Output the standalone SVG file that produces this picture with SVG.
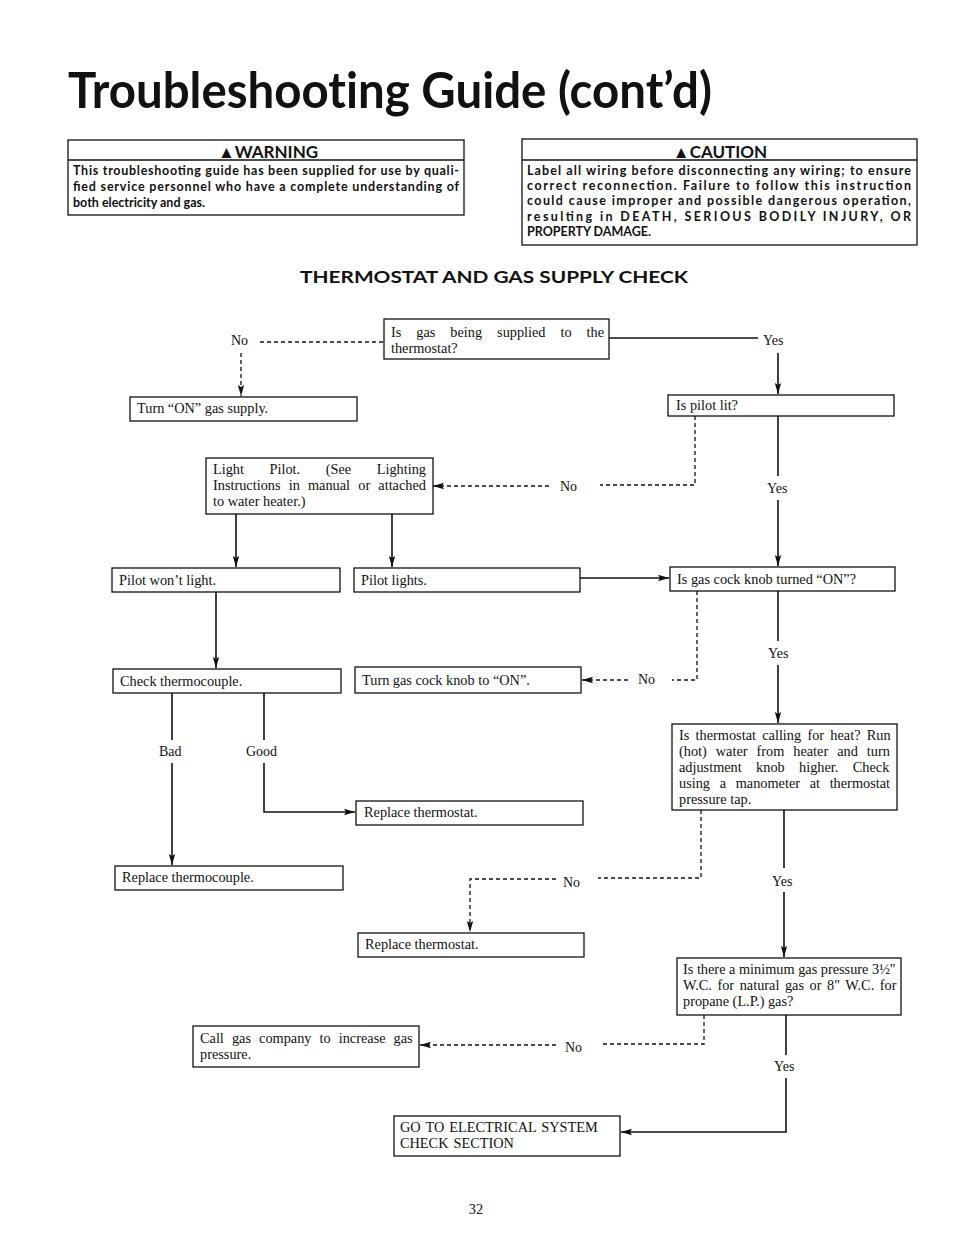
<svg xmlns="http://www.w3.org/2000/svg" width="954" height="1239" viewBox="0 0 954 1239">
<defs>
<style>
.bx{fill:#fff;stroke:#111;stroke-width:1.3}
.t{font-family:"Liberation Serif",serif;font-size:14.3px;fill:#111}
.lb{font-family:"Liberation Serif",serif;font-size:14px;fill:#111}
.s{fill:none;stroke:#111;stroke-width:1.6}
.d{fill:none;stroke:#111;stroke-width:1.3;stroke-dasharray:4,3}
.h{font-family:Lato,"Open Sans",sans-serif;font-weight:bold;fill:#111;font-variant-ligatures:none}
.wb{font-family:Lato,"Open Sans",sans-serif;font-weight:bold;font-size:12.5px;fill:#111}
</style>
<marker id="a" markerUnits="userSpaceOnUse" markerWidth="12" markerHeight="8" refX="11" refY="4" orient="auto">
<path d="M0,0.8 L11,4 L0,7.2 L2,4 z" fill="#111"/>
</marker>
</defs>
<rect width="954" height="1239" fill="#fff"/>

<text x="68" y="108" class="h" font-size="50" font-weight="900" textLength="644" lengthAdjust="spacingAndGlyphs">Troubleshooting Guide (cont’d)</text>

<g id="warning">
<rect x="68" y="140" width="396" height="75" class="bx"/>
<line x1="68" y1="160" x2="464" y2="160" stroke="#111" stroke-width="1.3"/>
<text x="268" y="157.5" class="h" font-size="17" text-anchor="middle" font-weight="900">▲WARNING</text>
<text x="73" y="175" class="wb" textLength="386" lengthAdjust="spacing">This troubleshooting guide has been supplied for use by quali-</text>
<text x="73" y="191" class="wb" textLength="386" lengthAdjust="spacing">fied service personnel who have a complete understanding of</text>
<text x="73" y="207" class="wb">both electricity and gas.</text>
</g>

<g id="caution">
<rect x="522" y="139" width="395" height="106" class="bx"/>
<line x1="522" y1="160" x2="917" y2="160" stroke="#111" stroke-width="1.3"/>
<text x="720" y="157.5" class="h" font-size="17" text-anchor="middle" font-weight="900">▲CAUTION</text>
<text x="527" y="175" class="wb" textLength="384" lengthAdjust="spacing">Label all wiring before disconnecting any wiring; to ensure</text>
<text x="527" y="190" class="wb" textLength="384" lengthAdjust="spacing">correct reconnection. Failure to follow this instruction</text>
<text x="527" y="205" class="wb" textLength="384" lengthAdjust="spacing">could cause improper and possible dangerous operation,</text>
<text x="527" y="221" class="wb" textLength="384" lengthAdjust="spacing">resulting in DEATH, SERIOUS BODILY INJURY, OR</text>
<text x="527" y="236" class="wb">PROPERTY DAMAGE.</text>
</g>

<text x="300" y="283" class="h" font-size="17" font-weight="900" textLength="388" lengthAdjust="spacingAndGlyphs">THERMOSTAT AND GAS SUPPLY CHECK</text>

<g id="connectors">
<path class="d" d="M260,342 H384"/>
<path class="d" d="M241,353 V396" marker-end="url(#a)"/>
<path class="s" d="M609,338 H758"/>
<path class="s" d="M778,353 V394" marker-end="url(#a)"/>
<path class="d" d="M695,416 V485 H600"/>
<path class="d" d="M549,486 H433" marker-end="url(#a)"/>
<path class="s" d="M778,416 V476"/>
<path class="s" d="M778,500 V566" marker-end="url(#a)"/>
<path class="s" d="M236,514 V567" marker-end="url(#a)"/>
<path class="s" d="M392,514 V567" marker-end="url(#a)"/>
<path class="s" d="M580,578 H669" marker-end="url(#a)"/>
<path class="d" d="M697,591 V680 H672"/>
<path class="d" d="M628,680 H582" marker-end="url(#a)"/>
<path class="s" d="M778,591 V641"/>
<path class="s" d="M778,665 V723" marker-end="url(#a)"/>
<path class="s" d="M216,592 V668" marker-end="url(#a)"/>
<path class="s" d="M172,693 V740"/>
<path class="s" d="M172,763 V865" marker-end="url(#a)"/>
<path class="s" d="M264,693 V740"/>
<path class="s" d="M264,763 V812 H355" marker-end="url(#a)"/>
<path class="d" d="M701,810 V878 H598"/>
<path class="d" d="M556,879 H470 V932" marker-end="url(#a)"/>
<path class="s" d="M784,810 V868"/>
<path class="s" d="M784,892 V957" marker-end="url(#a)"/>
<path class="d" d="M704,1015 V1044 H600"/>
<path class="d" d="M556,1045 H420" marker-end="url(#a)"/>
<path class="s" d="M786,1015 V1055"/>
<path class="s" d="M786,1078 V1132 H621" marker-end="url(#a)"/>
</g>

<g id="labels">
<text x="231" y="345" class="lb">No</text>
<text x="763" y="345" class="lb">Yes</text>
<text x="560" y="491" class="lb">No</text>
<text x="767" y="493" class="lb">Yes</text>
<text x="638" y="684" class="lb">No</text>
<text x="768" y="658" class="lb">Yes</text>
<text x="159" y="756" class="lb">Bad</text>
<text x="246" y="756" class="lb">Good</text>
<text x="563" y="887" class="lb">No</text>
<text x="772" y="886" class="lb">Yes</text>
<text x="565" y="1052" class="lb">No</text>
<text x="774" y="1071" class="lb">Yes</text>
</g>

<g id="n1"><rect x="384" y="319" width="225" height="40" class="bx"/>
<text x="391" y="337" class="t" word-spacing="11.4">Is gas being supplied to the</text>
<text x="391" y="353" class="t">thermostat?</text></g>

<g id="n2"><rect x="130" y="397" width="227" height="24" class="bx"/>
<text x="137" y="413" class="t">Turn “ON” gas supply.</text></g>

<g id="n3"><rect x="668" y="395" width="226" height="21" class="bx"/>
<text x="676" y="410" class="t">Is pilot lit?</text></g>

<g id="n4"><rect x="206" y="458" width="227" height="56" class="bx"/>
<text x="213" y="474" class="t" word-spacing="22">Light Pilot. (See Lighting</text>
<text x="213" y="490" class="t" word-spacing="4.6">Instructions in manual or attached</text>
<text x="213" y="506" class="t">to water heater.)</text></g>

<g id="n5"><rect x="112" y="568" width="228" height="24" class="bx"/>
<text x="119" y="585" class="t">Pilot won’t light.</text></g>

<g id="n6"><rect x="354" y="568" width="226" height="24" class="bx"/>
<text x="361" y="585" class="t">Pilot lights.</text></g>

<g id="n7"><rect x="670" y="567" width="225" height="24" class="bx"/>
<text x="677" y="584" class="t">Is gas cock knob turned “ON”?</text></g>

<g id="n8"><rect x="113" y="669" width="228" height="24" class="bx"/>
<text x="120" y="686" class="t">Check thermocouple.</text></g>

<g id="n9"><rect x="355" y="667" width="226" height="26" class="bx"/>
<text x="362" y="685" class="t">Turn gas cock knob to “ON”.</text></g>

<g id="n10"><rect x="672" y="724" width="225" height="86" class="bx"/>
<text x="679" y="740" class="t" font-size="14" word-spacing="2.7">Is thermostat calling for heat? Run</text>
<text x="679" y="756" class="t" font-size="14" word-spacing="5.4">(hot) water from heater and turn</text>
<text x="679" y="772" class="t" font-size="14" word-spacing="10.8">adjustment knob higher. Check</text>
<text x="679" y="788" class="t" font-size="14" word-spacing="6.1">using a manometer at thermostat</text>
<text x="679" y="804" class="t" font-size="14">pressure tap.</text></g>

<g id="n11"><rect x="356" y="801" width="227" height="24" class="bx"/>
<text x="364" y="817" class="t">Replace thermostat.</text></g>

<g id="n12"><rect x="115" y="866" width="228" height="24" class="bx"/>
<text x="122" y="882" class="t">Replace thermocouple.</text></g>

<g id="n13"><rect x="358" y="933" width="226" height="24" class="bx"/>
<text x="365" y="949" class="t">Replace thermostat.</text></g>

<g id="n14"><rect x="677" y="958" width="224" height="57" class="bx"/>
<text x="683" y="974" class="t" font-size="13.2" word-spacing="0">Is there a minimum gas pressure 3½"</text>
<text x="683" y="990" class="t" font-size="13.2" word-spacing="2">W.C. for natural gas or 8" W.C. for</text>
<text x="683" y="1006" class="t" font-size="13.2">propane (L.P.) gas?</text></g>

<g id="n15"><rect x="193" y="1026" width="226" height="41" class="bx"/>
<text x="200" y="1043" class="t" word-spacing="4.5">Call gas company to increase gas</text>
<text x="200" y="1059" class="t">pressure.</text></g>

<g id="n16"><rect x="394" y="1116" width="226" height="40" class="bx"/>
<text x="400" y="1132" class="t" font-size="17" word-spacing="1.5">GO TO ELECTRICAL SYSTEM</text>
<text x="400" y="1148" class="t" font-size="17" word-spacing="1.5">CHECK SECTION</text></g>

<text x="476" y="1214" class="t" font-size="14" text-anchor="middle">32</text>
</svg>
